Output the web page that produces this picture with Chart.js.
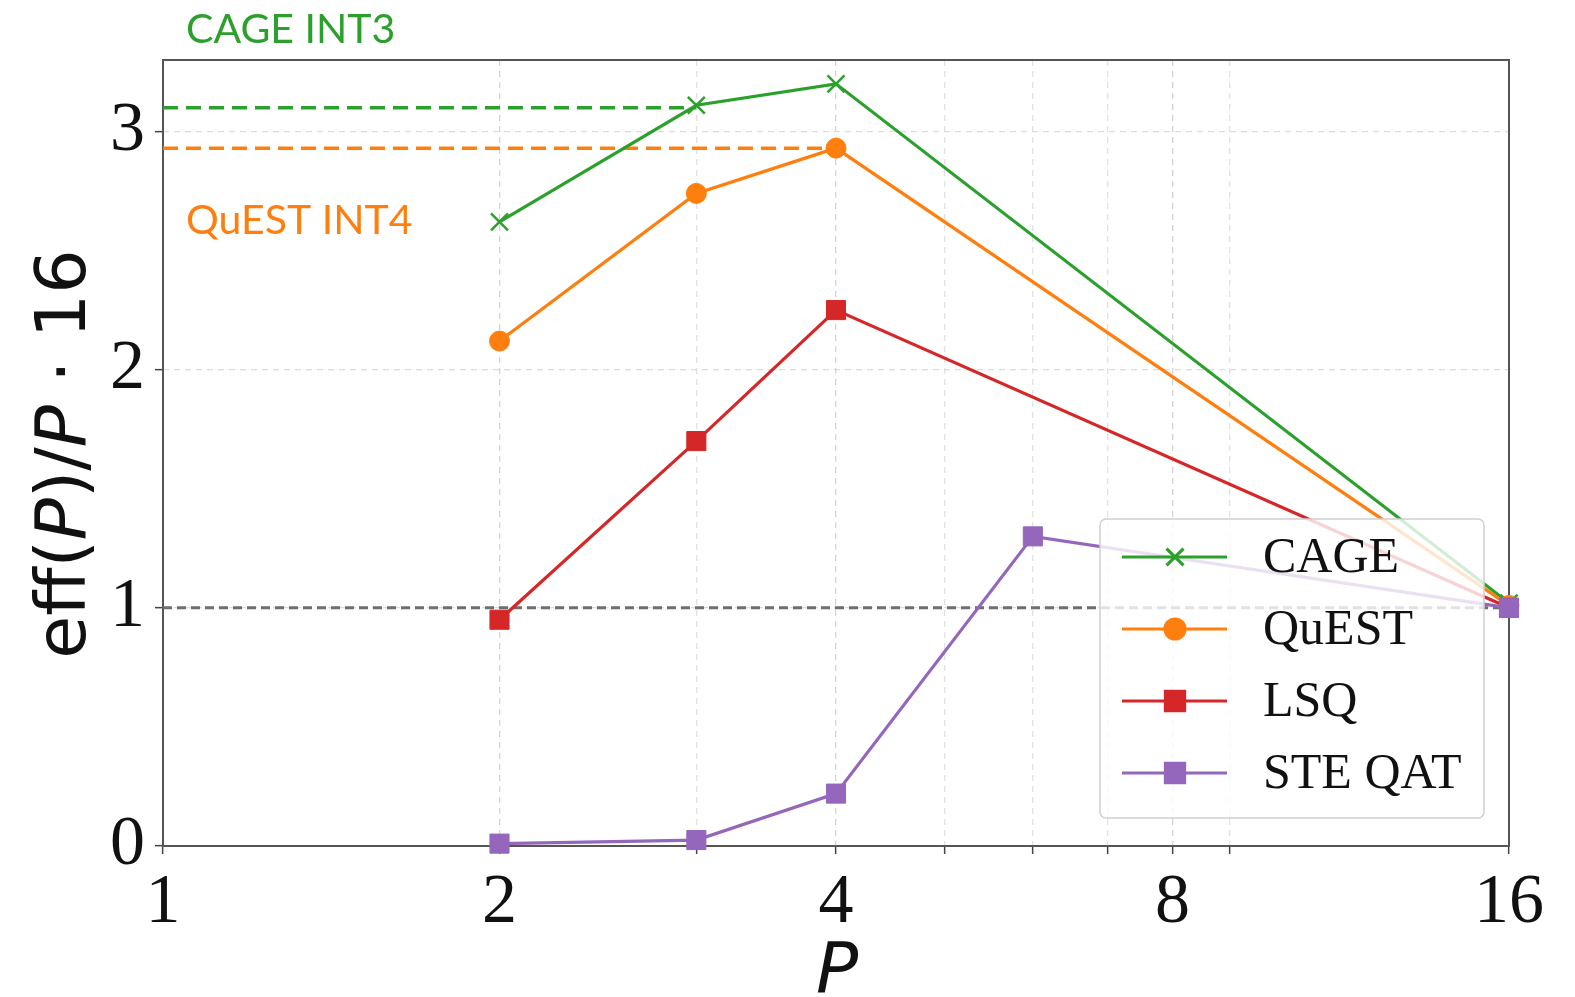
<!DOCTYPE html>
<html>
<head>
<meta charset="utf-8">
<script src="https://cdn.jsdelivr.net/npm/chart.js@4"></script>
<style>
  body { margin: 0; background: #fff; }
  canvas { display: block; }
</style>
</head>
<body>
<canvas id="myChart" width="1575" height="997"></canvas>
<script>
// values
var pBits = [2, 3, 4, 16];
var pBitsSte = [2, 3, 4, 6, 16];
var cage = [2.62, 3.11, 3.20, 1.02];
var quest = [2.12, 2.74, 2.93, 1.01];
var lsq = [0.95, 1.70, 2.25, 1.00];
var steQat = [0.01, 0.025, 0.22, 1.30, 1.00];
var cageInt3 = 3.10;   // dashed reference, runs to P=3
var questInt4 = 2.93;  // dashed reference, runs to P=4
var xTicks = [1, 2, 3, 4, 5, 6, 7, 8, 9, 16];
var xLabels = [1, 2, 4, 8, 16];
var yTicks = [0, 1, 2, 3];

var GREEN = '#2ca02c', ORANGE = '#ff7f0e', RED = '#d62728', PURPLE = '#9467bd';

function pts(xs, ys) {
    return xs.map(function (x, i) { return { x: x, y: ys[i] }; });
}

var ctx = document.getElementById("myChart").getContext('2d');

var series = [
    { label: 'CAGE', data: pts(pBits, cage), color: GREEN, style: 'crossRot', r: 12 },
    { label: 'QuEST', data: pts(pBits, quest), color: ORANGE, style: 'circle', r: 10 },
    { label: 'LSQ', data: pts(pBits, lsq), color: RED, style: 'rect', r: 13.5 },
    { label: 'STE QAT', data: pts(pBitsSte, steQat), color: PURPLE, style: 'rect', r: 13.5 }
];

var datasets = series.map(function (s, i) {
    return {
        label: s.label,
        data: s.data,
        borderColor: s.color,
        backgroundColor: s.color,
        borderWidth: 3.2,
        pointStyle: s.style,
        pointRadius: s.r,
        pointBorderWidth: s.style == 'crossRot' ? 2.5 : 1,
        pointBorderColor: s.color,
        pointBackgroundColor: s.color,
        tension: 0,
        clip: false,
        order: 4 - i
    };
});

// dashed reference lines
datasets.push({
    label: 'ref1', data: [{ x: 1, y: 1 }, { x: 16, y: 1 }],
    borderColor: '#6e6e6e', borderWidth: 3, borderDash: [9, 5], pointRadius: 0, order: 7, clip: false
});
datasets.push({
    label: 'CAGE INT3', data: [{ x: 1, y: cageInt3 }, { x: 3, y: cageInt3 }],
    borderColor: GREEN, borderWidth: 3.5, borderDash: [15, 8], pointRadius: 0, order: 6, clip: false
});
datasets.push({
    label: 'QuEST INT4', data: [{ x: 1, y: questInt4 }, { x: 4, y: questInt4 }],
    borderColor: ORANGE, borderWidth: 3.5, borderDash: [15, 8], pointRadius: 0, order: 5, clip: false
});

var extras = {
    id: 'extras',
    beforeDatasetsDraw: function (chart) {
        var a = chart.chartArea, c = chart.ctx;
        c.save();
        c.strokeStyle = '#555';
        c.lineWidth = 2;
        c.strokeRect(a.left, a.top, a.right - a.left, a.bottom - a.top);
        c.restore();
    },
    afterDatasetsDraw: function (chart) {
        var c = chart.ctx;
        // legend box
        var bx = 1100, by = 519, bw = 384, bh = 299;
        c.save();
        c.beginPath();
        c.roundRect(bx, by, bw, bh, 6);
        c.fillStyle = 'rgba(255,255,255,0.8)';
        c.fill();
        c.strokeStyle = '#d0d0d0';
        c.lineWidth = 1.5;
        c.stroke();
        series.forEach(function (s, i) {
            var y = 557 + i * 72;
            c.beginPath();
            c.moveTo(1122, y);
            c.lineTo(1227, y);
            c.strokeStyle = s.color;
            c.lineWidth = 3.2;
            c.stroke();
            c.fillStyle = s.color;
            Chart.helpers.drawPoint(c, {
                pointStyle: s.style, radius: s.r, rotation: 0,
                borderWidth: s.style == 'crossRot' ? 2.5 : 1
            }, 1175, y);
            c.font = '50px "Liberation Serif"';
            c.fillStyle = '#111';
            c.textBaseline = 'middle';
            c.fillText(s.label, 1263, y + 2);
        });
        c.restore();
    },
    afterDraw: function (chart) {
        var c = chart.ctx;
        c.save();
        // annotations
        c.font = '41px Lato';
        c.textBaseline = 'alphabetic';
        c.fillStyle = GREEN;
        c.fillText('CAGE INT3', 186, 43);
        c.fillStyle = ORANGE;
        c.fillText('QuEST INT4', 186, 234);

        // y title, with italic P
        var parts = [
            ['eff(', 'normal'], ['P', 'italic'], [')/', 'normal'], ['P', 'italic'], [' \u00b7 16', 'normal']
        ];
        var size = 70, total = 0;
        parts.forEach(function (p) {
            c.font = p[1] + ' ' + size + 'px "DejaVu Sans"';
            p.push(c.measureText(p[0]).width);
            total += p[2];
        });
        c.translate(85, 454);
        c.rotate(-Math.PI / 2);
        c.fillStyle = '#111';
        var x = -total / 2;
        parts.forEach(function (p) {
            c.font = p[1] + ' ' + size + 'px "DejaVu Sans"';
            c.fillText(p[0], x, 0);
            x += p[2];
        });
        c.restore();

        c.save();
        c.font = 'italic 70px "DejaVu Sans"';
        c.fillStyle = '#111';
        c.textAlign = 'center';
        c.fillText('P', 837, 992);
        c.restore();
    }
};

var myChart = new Chart(ctx, {
    type: 'line',
    data: { datasets: datasets },
    options: {
        responsive: false,
        animation: false,
        layout: { padding: { top: 60, right: 66, left: 0, bottom: 0 } },
        plugins: { legend: { display: false }, tooltip: { enabled: false } },
        scales: {
            x: {
                type: 'logarithmic',
                min: 1, max: 16,
                afterBuildTicks: function (scale) {
                    scale.ticks = xTicks.map(function (v) { return { value: v }; });
                },
                afterFit: function (scale) { scale.height = 151; },
                ticks: {
                    autoSkip: false, maxRotation: 0, padding: 8,
                    font: { family: 'Liberation Serif', size: 70 }, color: '#111',
                    callback: function (v) { return xLabels.indexOf(v) >= 0 ? String(v) : ''; }
                },
                grid: {
                    color: function (c) { return xLabels.indexOf(c.tick && c.tick.value) >= 0 ? '#d4d4d4' : '#e2e2e2'; },
                    lineWidth: 1.3,
                    tickColor: '#444',
                    tickWidth: 1.5,
                    tickLength: 8
                },
                border: { display: false, dash: [6, 5] }
            },
            y: {
                min: 0, max: 3.3,
                afterBuildTicks: function (scale) {
                    scale.ticks = yTicks.map(function (v) { return { value: v }; });
                },
                afterFit: function (scale) { scale.width = 163; },
                ticks: {
                    padding: 10,
                    font: { family: 'Liberation Serif', size: 70 }, color: '#111'
                },
                grid: {
                    color: '#dcdcdc',
                    lineWidth: 1.3,
                    tickColor: '#444',
                    tickWidth: 1.5,
                    tickLength: 8
                },
                border: { display: false, dash: [6, 5] }
            }
        }
    },
    plugins: [extras]
});
</script>
</body>
</html>
